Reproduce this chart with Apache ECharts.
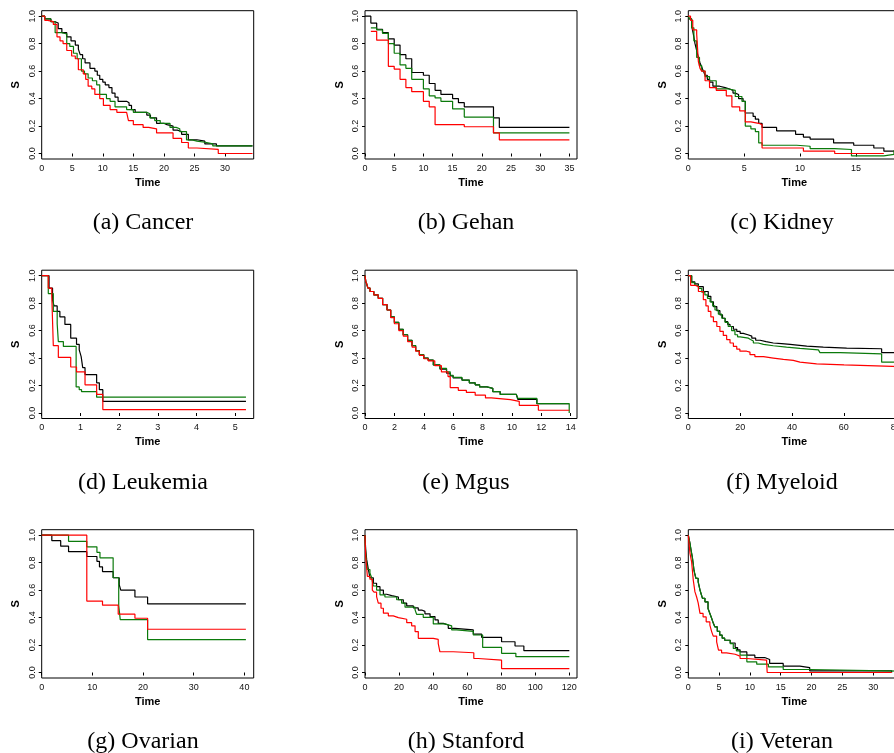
<!DOCTYPE html>
<html><head><meta charset="utf-8">
<script src="https://cdn.jsdelivr.net/npm/echarts@6/dist/echarts.min.js"></script>
<style>html,body{margin:0;padding:0;background:#fff;width:894px;height:753px;overflow:hidden}#c{width:910px;height:753px}</style>
</head><body><div id="c"></div>
<script>
// ---------- DATA (time, S) step points ----------
const panelTitles = ['(a) Cancer','(b) Gehan','(c) Kidney','(d) Leukemia','(e) Mgus','(f) Myeloid','(g) Ovarian','(h) Stanford','(i) Veteran'];
const xMaxes = [34.7, 36.3, 18.97, 5.48, 14.43, 81.8, 41.84, 124.5, 34.4];
const xTicks = [[0,5,10,15,20,25,30],[0,5,10,15,20,25,30,35],[0,5,10,15],[0,1,2,3,4,5],[0,2,4,6,8,10,12,14],[0,20,40,60,80],[0,10,20,30,40],[0,20,40,60,80,100,120],[0,5,10,15,20,25,30]];
const yTicks = [0,0.2,0.4,0.6,0.8,1.0];

const cancerBlack = [[0,1],[0.5,0.98],[1.5,0.96],[2.2,0.95],[2.7,0.91],[3.3,0.88],[4.1,0.85],[4.8,0.82],[5.5,0.79],[6.0,0.76],[6.3,0.72],[6.7,0.69],[7.1,0.66],[7.9,0.62],[8.7,0.60],[9.1,0.57],[9.5,0.54],[10.0,0.52],[10.4,0.50],[11.0,0.48],[11.5,0.44],[12.0,0.41],[12.5,0.38],[13.9,0.37],[14.3,0.35],[14.7,0.32],[15.3,0.30],[17.2,0.28],[17.8,0.26],[18.8,0.22],[20.0,0.21],[20.5,0.20],[21.5,0.17],[22.2,0.16],[22.9,0.14],[24.0,0.10],[25.4,0.09],[26.7,0.07],[28.6,0.055],[34.5,0.055]];
const cancerGreen = [[0,1],[0.5,0.98],[1.5,0.96],[2.2,0.88],[3.3,0.87],[4.1,0.80],[4.6,0.78],[5.2,0.73],[5.8,0.69],[6.5,0.60],[7.0,0.58],[7.6,0.55],[8.3,0.53],[9.0,0.50],[9.5,0.43],[10.6,0.40],[11.2,0.38],[12.0,0.34],[13.9,0.32],[15.0,0.30],[17.2,0.29],[17.7,0.26],[18.5,0.24],[19.4,0.22],[21.0,0.19],[22.0,0.18],[22.6,0.16],[23.7,0.10],[24.5,0.09],[25.4,0.08],[27.0,0.07],[28.0,0.055],[34.5,0.055]];
const cancerRed = [[0,1],[0.5,0.97],[1.0,0.96],[1.9,0.94],[2.5,0.85],[3.0,0.82],[3.5,0.80],[4.1,0.75],[4.9,0.71],[5.5,0.69],[6.0,0.61],[6.8,0.58],[7.2,0.54],[7.6,0.49],[8.2,0.47],[8.7,0.43],[9.5,0.40],[10.1,0.35],[11.2,0.32],[12.3,0.30],[13.9,0.29],[14.2,0.24],[15.0,0.21],[16.6,0.19],[17.5,0.18],[18.8,0.15],[21.5,0.11],[22.9,0.08],[24.0,0.04],[25.4,0.03],[28.9,0.0],[34.5,0.0]];

const gehanBlack = [[0,1],[1,0.95],[2,0.905],[3,0.88],[4,0.835],[5,0.79],[6,0.72],[7,0.69],[8,0.59],[10,0.57],[11,0.51],[12,0.46],[13,0.43],[15,0.40],[16,0.37],[17,0.34],[22,0.26],[23,0.19],[35,0.19]];
const gehanGreen = [[1,0.915],[2,0.90],[3,0.875],[4,0.80],[5,0.73],[6,0.645],[7,0.62],[8,0.54],[10,0.47],[11,0.42],[12,0.405],[13,0.38],[15,0.325],[17,0.265],[22,0.15],[35,0.15]];
const gehanRed = [[1,0.89],[2,0.825],[4,0.635],[5,0.615],[6,0.54],[7,0.48],[8,0.45],[10,0.38],[11,0.34],[12,0.21],[17,0.195],[22,0.15],[23,0.10],[35,0.10]];

const kidneyBlack = [[0,1],[0.1,0.98],[0.3,0.93],[0.45,0.87],[0.6,0.80],[0.75,0.75],[0.9,0.70],[1.05,0.66],[1.2,0.63],[1.35,0.60],[1.5,0.57],[1.7,0.54],[1.9,0.52],[2.2,0.49],[2.8,0.48],[3.3,0.47],[3.7,0.46],[4.0,0.44],[4.2,0.43],[4.5,0.40],[4.9,0.38],[5.1,0.295],[5.8,0.27],[6.0,0.25],[6.3,0.22],[6.6,0.19],[7.9,0.165],[9.6,0.14],[10.3,0.12],[10.9,0.105],[13.0,0.077],[14.8,0.06],[16.6,0.04],[17.5,0.017],[18.97,0.017]];
const kidneyGreen = [[0,1],[0.1,0.98],[0.3,0.915],[0.5,0.82],[0.75,0.70],[1.0,0.64],[1.2,0.60],[1.5,0.56],[1.9,0.53],[2.5,0.47],[3.6,0.46],[4.2,0.415],[4.8,0.38],[5.1,0.20],[5.6,0.18],[6.0,0.16],[6.3,0.077],[6.6,0.06],[9.7,0.053],[10.9,0.036],[13.1,0.029],[14.6,-0.017],[17.5,-0.007],[18.4,0.022],[18.97,0.022]];
const kidneyRed = [[0,1],[0.2,0.97],[0.4,0.90],[0.75,0.87],[0.9,0.67],[1.05,0.62],[1.2,0.60],[1.5,0.53],[1.9,0.48],[2.5,0.46],[3.4,0.42],[3.9,0.34],[4.6,0.31],[5.1,0.23],[5.6,0.22],[6.3,0.21],[6.6,0.04],[10.3,0.017],[13.1,0.0],[17.5,0.0]];

const leukBlack = [[0,1],[0.19,0.91],[0.28,0.82],[0.32,0.78],[0.40,0.74],[0.47,0.70],[0.60,0.645],[0.75,0.545],[0.90,0.50],[0.97,0.46],[1.02,0.41],[1.06,0.33],[1.12,0.28],[1.42,0.22],[1.49,0.17],[1.58,0.085],[5.28,0.085]];
const leukGreen = [[0,1],[0.17,0.87],[0.30,0.74],[0.40,0.65],[0.43,0.52],[0.56,0.485],[0.89,0.19],[0.97,0.17],[1.03,0.155],[1.42,0.115],[5.28,0.115]];
const leukRed = [[0,1],[0.17,0.91],[0.26,0.86],[0.30,0.49],[0.43,0.405],[0.75,0.335],[0.90,0.30],[1.12,0.205],[1.42,0.135],[1.58,0.025],[5.28,0.025]];

const mgusBlack = [[0,1],[0.05,0.96],[0.1,0.945],[0.2,0.91],[0.34,0.885],[0.6,0.86],[0.9,0.835],[1.2,0.79],[1.5,0.75],[1.75,0.70],[2.0,0.66],[2.3,0.61],[2.6,0.57],[2.9,0.53],[3.2,0.49],[3.45,0.455],[3.7,0.425],[4.0,0.40],[4.3,0.385],[4.65,0.35],[5.1,0.32],[5.55,0.29],[5.8,0.27],[6.0,0.255],[6.6,0.24],[7.1,0.22],[7.5,0.205],[7.8,0.19],[8.3,0.18],[8.7,0.155],[9.2,0.135],[10.3,0.125],[10.4,0.10],[11.7,0.068],[13.9,0.068]];
const mgusGreen = [[0,1],[0.05,0.96],[0.1,0.945],[0.2,0.91],[0.34,0.885],[0.6,0.86],[0.9,0.835],[1.2,0.79],[1.5,0.75],[1.75,0.70],[2.0,0.66],[2.3,0.61],[2.6,0.57],[2.9,0.53],[3.2,0.49],[3.45,0.455],[3.7,0.425],[4.0,0.40],[4.3,0.385],[4.65,0.35],[5.1,0.325],[5.55,0.30],[5.8,0.275],[6.0,0.26],[6.6,0.24],[7.1,0.22],[7.5,0.205],[7.8,0.19],[8.3,0.18],[8.7,0.155],[9.2,0.135],[10.3,0.125],[10.4,0.107],[11.7,0.068],[13.9,0.0]];
const mgusRed = [[0,1],[0.05,0.96],[0.1,0.945],[0.2,0.91],[0.34,0.885],[0.6,0.86],[0.9,0.835],[1.2,0.79],[1.5,0.75],[1.75,0.695],[2.0,0.65],[2.3,0.60],[2.6,0.56],[2.9,0.52],[3.2,0.48],[3.45,0.45],[3.7,0.42],[4.0,0.395],[4.3,0.38],[4.75,0.345],[5.2,0.30],[5.65,0.265],[5.8,0.185],[6.35,0.165],[6.9,0.15],[7.5,0.13],[8.2,0.11],[8.6,0.097],[9.9,0.085],[10.5,0.056],[11.8,0.02],[13.9,0.02]];

const myeloidBlack = [[0,1],[1.3,0.955],[2.5,0.94],[3.9,0.92],[5.8,0.885],[7.7,0.85],[8.7,0.81],[9.7,0.775],[11,0.745],[12.2,0.715],[13.2,0.69],[14.2,0.665],[15.2,0.645],[16.1,0.63],[17.4,0.61],[18.7,0.595],[20,0.58],[21.2,0.57],[23,0.56],[24.5,0.545],[26,0.53],[27.7,0.52],[30,0.51],[32.8,0.505],[36,0.50],[39.3,0.495],[42,0.487],[45.7,0.48],[52.1,0.473],[61.1,0.468],[74.6,0.44],[81.8,0.44]];
const myeloidGreen = [[0,1],[1.3,0.95],[2.5,0.93],[3.9,0.908],[5.2,0.88],[6.4,0.86],[7.4,0.835],[8.4,0.81],[9.4,0.78],[10.3,0.75],[11.6,0.72],[12.9,0.69],[14.2,0.66],[15.4,0.63],[16.7,0.60],[18,0.57],[19,0.555],[20,0.545],[23.2,0.535],[24,0.525],[25.1,0.51],[27,0.50],[29,0.49],[32.8,0.48],[37.9,0.47],[43.1,0.46],[50.2,0.448],[50.8,0.44],[58.6,0.43],[74.6,0.37],[81.8,0.37]];
const myeloidRed = [[0,1],[0.9,0.93],[2.6,0.92],[3.9,0.885],[5.8,0.825],[6.8,0.78],[7.7,0.74],[8.7,0.70],[9.7,0.665],[11,0.63],[12.2,0.595],[13.5,0.565],[14.8,0.535],[16.1,0.51],[17.4,0.485],[18.7,0.465],[19.9,0.45],[22.5,0.443],[23.8,0.425],[25.7,0.41],[29,0.40],[32.8,0.39],[36.7,0.383],[40.5,0.37],[43.1,0.358],[49.5,0.35],[60.1,0.338],[81.8,0.338]];

const ovarianBlack = [[0,1],[2,0.96],[3.75,0.92],[5.3,0.88],[8.9,0.845],[10.9,0.81],[11.4,0.77],[12,0.735],[14.1,0.69],[15.3,0.64],[15.6,0.60],[18.4,0.55],[20.9,0.50],[40.3,0.50]];
const ovarianGreen = [[0,1],[5.3,0.955],[8.9,0.915],[10.9,0.875],[11.5,0.835],[14.1,0.69],[15.2,0.49],[15.5,0.385],[20.9,0.24],[40.3,0.24]];
const ovarianRed = [[0,1],[8.9,0.52],[12,0.49],[15.1,0.425],[18.4,0.395],[20.9,0.315],[40.3,0.315]];

const stanfordBlack = [[0,1],[0.4,0.895],[1,0.82],[2,0.75],[2.9,0.69],[4.9,0.65],[6.8,0.625],[8.8,0.60],[10.8,0.57],[12.7,0.56],[15.7,0.55],[19.6,0.53],[22.5,0.505],[24.5,0.485],[28.4,0.47],[31.3,0.455],[33.3,0.445],[35.2,0.427],[38.2,0.407],[41.1,0.383],[43,0.358],[46,0.346],[48.9,0.322],[52.8,0.31],[63.6,0.28],[68.5,0.256],[80.2,0.224],[88.1,0.193],[93.3,0.159],[120,0.159]];
const stanfordGreen = [[0,1],[0.4,0.87],[1.4,0.75],[2.9,0.725],[3.9,0.69],[4.9,0.63],[6.8,0.60],[8.8,0.566],[11.7,0.55],[18.6,0.53],[21.5,0.505],[23.5,0.476],[29.4,0.456],[30.3,0.424],[34.2,0.402],[40.1,0.354],[46.9,0.34],[50.9,0.31],[53.8,0.30],[63.6,0.273],[69.1,0.183],[80.2,0.14],[88.6,0.115],[120,0.115]];
const stanfordRed = [[0,1],[0.4,0.845],[1.4,0.70],[2.9,0.68],[4.3,0.60],[5.3,0.585],[6.8,0.553],[7.8,0.505],[9.4,0.468],[10.8,0.432],[13.7,0.412],[16.6,0.40],[19.6,0.388],[24.5,0.363],[27.4,0.34],[29.4,0.298],[31.3,0.249],[40.1,0.241],[43,0.212],[44,0.151],[51.8,0.144],[63.9,0.102],[66.5,0.09],[80.2,0.029],[120,0.029]];

const veteranBlack = [[0,1],[0.27,0.94],[0.45,0.89],[0.65,0.84],[0.8,0.79],[0.92,0.745],[1.1,0.71],[1.24,0.685],[1.6,0.66],[1.9,0.60],[2.1,0.57],[2.3,0.54],[2.7,0.515],[3.2,0.466],[3.5,0.43],[3.8,0.393],[4.05,0.36],[4.3,0.333],[4.7,0.30],[5.1,0.272],[5.5,0.25],[5.9,0.235],[6.8,0.215],[7.6,0.182],[8.0,0.165],[8.4,0.15],[9.5,0.126],[10.8,0.109],[12.4,0.095],[13.2,0.066],[15.4,0.046],[18.1,0.036],[19.7,0.012],[33,0.0]];
const veteranGreen = [[0,1],[0.27,0.94],[0.45,0.89],[0.65,0.84],[0.8,0.79],[0.92,0.745],[1.1,0.71],[1.24,0.685],[1.6,0.66],[1.9,0.60],[2.1,0.57],[2.3,0.54],[2.7,0.515],[3.2,0.466],[3.5,0.43],[3.8,0.393],[4.05,0.36],[4.3,0.333],[4.7,0.30],[5.1,0.272],[5.5,0.25],[5.9,0.235],[6.8,0.21],[7.3,0.175],[7.8,0.158],[8.4,0.126],[9.5,0.078],[11.1,0.061],[13,0.041],[15.4,0.022],[19.7,0.01],[34.4,0.01]];
const veteranRed = [[0,1],[0.27,0.867],[0.54,0.806],[0.81,0.672],[1.08,0.587],[1.35,0.55],[1.6,0.507],[1.9,0.43],[2.4,0.405],[2.9,0.369],[3.5,0.345],[3.8,0.296],[4.05,0.265],[4.6,0.223],[4.9,0.163],[5.4,0.143],[6.2,0.133],[7.6,0.119],[8.4,0.102],[9.5,0.09],[12.7,0.083],[12.8,0.0],[33,0.0]];

const panelData = [
  [cancerBlack, cancerGreen, cancerRed],
  [gehanBlack, gehanGreen, gehanRed],
  [kidneyBlack, kidneyGreen, kidneyRed],
  [leukBlack, leukGreen, leukRed],
  [mgusBlack, mgusGreen, mgusRed],
  [myeloidBlack, myeloidGreen, myeloidRed],
  [ovarianBlack, ovarianGreen, ovarianRed],
  [stanfordBlack, stanfordGreen, stanfordRed],
  [veteranBlack, veteranGreen, veteranRed]
];
const seriesColors = ['#000000', '#0b7a0b', '#ff0000'];

// ---------- LAYOUT ----------
const colLeft = [41.7, 365, 688.3];
const rowTop = [10.7, 270.2, 529.7];
const W = 212, H = 148.3;
const capX = [143, 466, 782];
const capY = [223, 483, 742];
const tickFont = 'Liberation Sans';

const grids = [], xAxes = [], yAxes = [], series = [], graphics = [];
for (let i = 0; i < 9; i++) {
  const r = Math.floor(i / 3), c = i % 3;
  grids.push({left: colLeft[c], top: rowTop[r], width: W, height: H, show: true,
    borderColor: '#000', borderWidth: 1, backgroundColor: 'transparent', containLabel: false});
  xAxes.push({type: 'value', gridIndex: i, min: 0, max: xMaxes[i],
    splitLine: {show: false}, axisLine: {show: false},
    axisTick: {show: true, inside: false, length: 3, lineStyle: {color: '#000', width: 1}, customValues: xTicks[i]},
    axisLabel: {customValues: xTicks[i], fontSize: 9, fontFamily: tickFont, color: '#111', margin: 5, showMinLabel: true, showMaxLabel: true, hideOverlap: false},
    name: 'Time', nameLocation: 'middle', nameGap: 18,
    nameTextStyle: {fontSize: 11, fontWeight: 'bold', fontFamily: tickFont, color: '#000'}});
  yAxes.push({type: 'value', gridIndex: i, min: -0.04, max: 1.04,
    splitLine: {show: false}, axisLine: {show: false},
    axisTick: {show: true, inside: false, length: 3, lineStyle: {color: '#000', width: 1}, customValues: yTicks},
    axisLabel: {customValues: yTicks, rotate: 90, fontSize: 9, fontFamily: tickFont, color: '#111', margin: 5,
      formatter: v => v.toFixed(1), showMinLabel: true, showMaxLabel: true, hideOverlap: false},
    name: 'S', nameLocation: 'middle', nameRotate: 90, nameGap: 20,
    nameTextStyle: {fontSize: 11, fontWeight: 'bold', fontFamily: tickFont, color: '#000'}});
  panelData[i].forEach((d, k) => {
    series.push({type: 'line', step: 'end', xAxisIndex: i, yAxisIndex: i, data: d,
      showSymbol: false, symbol: 'none', silent: true, clip: true,
      lineStyle: {color: seriesColors[k], width: 1.2}, z: 2 + k});
  });
  graphics.push({type: 'text', x: capX[c], y: capY[r], style: {text: panelTitles[i],
    font: '24px "Liberation Serif"', fill: '#000', textAlign: 'center', textVerticalAlign: 'middle'}});
}

const chart = echarts.init(document.getElementById('c'), null, {renderer: 'canvas'});
chart.setOption({animation: false, backgroundColor: '#fff', grid: grids, xAxis: xAxes, yAxis: yAxes, series: series, graphic: graphics});
</script></body></html>
